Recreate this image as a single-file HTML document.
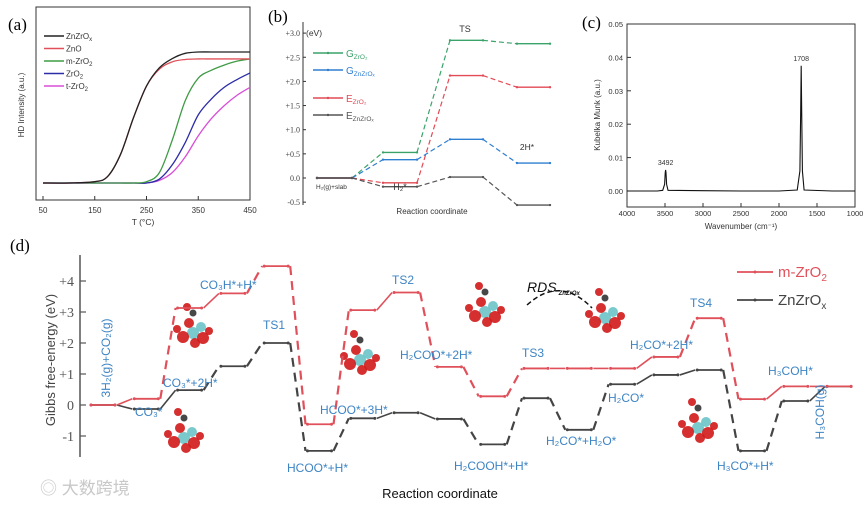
<!DOCTYPE html>
<html><head><meta charset="utf-8"><style>
body{margin:0;background:#fff}
svg{display:block;font-family:"Liberation Sans","Noto Sans CJK SC",sans-serif}
</style></head><body>
<svg id="s" width="865" height="505" viewBox="0 0 865 505" xmlns="http://www.w3.org/2000/svg">
<text x="8" y="30" font-family="Liberation Serif,serif" font-size="17">(a)</text>
<text x="268" y="22" font-family="Liberation Serif,serif" font-size="17">(b)</text>
<text x="582" y="28" font-family="Liberation Serif,serif" font-size="17">(c)</text>
<text x="10" y="251" font-family="Liberation Serif,serif" font-size="17">(d)</text>
<g id="ga"></g>
<g id="gb"></g>
<g id="gc"></g>
<g id="gd"></g>
<text x="40" y="494" font-size="17" fill="#c8c8c8">◎ 大数跨境</text>
</svg>
<script>
// ---------- Panel a data ----------
const aTemps=[50,100,150,175,200,225,250,275,300,325,350,375,400,425,450];
const aNames=["ZnZrOx","ZnO","m-ZrO2","ZrO2","t-ZrO2"];
const aZnZrOx=[0,0,1,5,22,50,74,88,95,99,100,100,100,100,100];
const aZnO=[0,0,1,5,22,50,74,87,92.5,94.3,94.7,94.7,94.7,94.7,94.7];
const aMZrO2=[0,0,0,0,0,0,1,8,33,63,80,86,90,93,94.7];
const aZrO2=[0,0,0,0,0,0,0,3,14,31,52,64,73,79,84];
const aTZrO2=[0,0,0,0,0,0,0,2,8,20,36,49,59,67,73];
const aTicks=[50,150,250,350,450];
// ---------- Panel b data ----------
const bGZrO2=[0,0.53,2.85,2.78];
const bGZnZrOx=[0,0.38,0.80,0.31];
const bEZrO2=[0,-0.10,2.12,1.88];
const bEZnZrOx=[0,-0.18,0.02,-0.56];
const bTicks=[-0.5,0,0.5,1,1.5,2,2.5,3];
const bTickLabels=["-0.5","0.0","+0.5","+1.0","+1.5","+2.0","+2.5","+3.0"];
// ---------- Panel c data ----------
const cWave=[4000,3600,3530,3505,3497,3492,3487,3479,3460,3000,2500,2000,1760,1725,1714,1708,1702,1692,1670,1300,1000];
const cKM=[0,0,0.0002,0.002,0.0055,0.0063,0.0055,0.002,0.0002,0.0001,0,0,0.0003,0.006,0.025,0.0375,0.025,0.006,0.0003,0,0];
const cXTicks=[4000,3500,3000,2500,2000,1500,1000];
const cYTicks=[0,0.01,0.02,0.03,0.04,0.05];
const cYLabels=["0.00","0.01","0.02","0.03","0.04","0.05"];
// ---------- Panel d data ----------
const dRed=[0,0.2,3.13,3.6,4.48,-0.62,3.06,3.63,1.23,0.28,1.18,1.18,1.18,1.55,2.8,0.19,0.6,0.6];
const dBlack=[0,-0.13,0.48,1.25,2.0,-1.48,-0.43,-0.25,-0.45,-1.27,0.22,-0.8,0.67,0.97,1.13,-1.48,0.13,0.6];
const dTicks=[-1,0,1,2,3,4];
const dTickLabels=["-1","0","+1","+2","+3","+4"];

const NS="http://www.w3.org/2000/svg";
function mk(p,t,a){const e=document.createElementNS(NS,t);for(const k in a)e.setAttribute(k,a[k]);p.appendChild(e);return e;}
function txt(p,x,y,s,o){const e=mk(p,"text",Object.assign({x:x,y:y},o||{}));e.textContent=s;return e;}
function smooth(pts){let d="M"+pts[0][0]+","+pts[0][1];for(let i=0;i<pts.length-1;i++){const p0=pts[Math.max(0,i-1)],p1=pts[i],p2=pts[i+1],p3=pts[Math.min(pts.length-1,i+2)];d+=" C"+(p1[0]+(p2[0]-p0[0])/6)+","+(p1[1]+(p2[1]-p0[1])/6)+" "+(p2[0]-(p3[0]-p1[0])/6)+","+(p2[1]-(p3[1]-p1[1])/6)+" "+p2[0]+","+p2[1];}return d;}

// ===== Panel a =====
(function(){
const g=document.getElementById("ga");
const xA=t=>43+(t-50)*207/400, yA=v=>183-v*1.31;
const box=mk(g,"rect",{x:36,y:7,width:214,height:193,fill:"none",stroke:"#333","stroke-width":1});


aTicks.forEach(t=>{mk(g,"line",{x1:xA(t),x2:xA(t),y1:200,y2:196,stroke:"#333"});
 const l=txt(g,xA(t),213,t,{"font-size":8,"text-anchor":"middle",fill:"#333"});
 
 });
const xt=txt(g,143,225,"T (°C)",{"font-size":8.5,"text-anchor":"middle",fill:"#333"});


const yt=txt(g,0,0,"HD Intensity (a.u.)",{"font-size":8,"text-anchor":"middle",fill:"#333",transform:"translate(24,105) rotate(-90)"});


const series=[aZnZrOx,aZnO,aMZrO2,aZrO2,aTZrO2];
const cols=["#222","#e0505a","#3f9b45","#2c2ca8","#d84ed8"];
const labels=["ZnZrO","ZnO","m-ZrO","ZrO","t-ZrO"], subs=["x","","2","2","2"];
for(let k=series.length-1;k>=0;k--){
 const p=mk(g,"path",{d:smooth(aTemps.map((t,i)=>[xA(t),yA(series[k][i])])),fill:"none",stroke:cols[k],"stroke-width":1.3});
 
 
}
series.forEach((s,k)=>{const y=36+k*12.5;
 mk(g,"line",{x1:44,x2:64,y1:y,y2:y,stroke:cols[k],"stroke-width":1.5});
 const t=txt(g,66,y+3,labels[k],{"font-size":8,fill:"#333"});
 if(subs[k]){const ts=mk(t,"tspan",{"font-size":6,dy:2});ts.textContent=subs[k];}
 
 });
})();

// ===== Panel b =====
(function(){
const g=document.getElementById("gb");
const yB=e=>178-e*48.3;
const xs=[[317,352],[383,417],[450,483],[517,550]];
const ax=mk(g,"line",{x1:303,x2:303,y1:22,y2:205,stroke:"#333"});


bTicks.forEach((t,i)=>{mk(g,"line",{x1:303,x2:306,y1:yB(t),y2:yB(t),stroke:"#333"});
 const l=txt(g,300,yB(t)+3,bTickLabels[i],{"font-size":8,"text-anchor":"end",fill:"#444","font-family":"Liberation Serif,serif"});
 
 });
txt(g,306,36,"(eV)",{"font-size":8.5,fill:"#333"});
const ser=[bGZrO2,bGZnZrOx,bEZrO2,bEZnZrOx], cols=["#3aa36a","#2f7fd0","#e24a55","#555"];
const names=["G-ZrO2","G-ZnZrOx","E-ZrO2","E-ZnZrOx"];
ser.forEach((s,k)=>{
 s.forEach((v,i)=>{const y=yB(v);
  const l=mk(g,"line",{x1:xs[i][0],x2:xs[i][1],y1:y,y2:y,stroke:cols[k],"stroke-width":1.4});
  
  
  mk(g,"circle",{cx:xs[i][0],cy:y,r:1.2,fill:cols[k]});mk(g,"circle",{cx:xs[i][1],cy:y,r:1.2,fill:cols[k]});
  if(i<s.length-1){mk(g,"line",{x1:xs[i][1],x2:xs[i+1][0],y1:y,y2:yB(s[i+1]),stroke:cols[k],"stroke-width":1.2,"stroke-dasharray":"5,3"});}
 });});
const lab=[["G","ZrO₂"],["G","ZnZrOₓ"],["E","ZrO₂"],["E","ZnZrOₓ"]], ly=[53,70,98,115];
lab.forEach((l,k)=>{mk(g,"line",{x1:313,x2:343,y1:ly[k],y2:ly[k],stroke:cols[k],"stroke-width":1.4});
 mk(g,"circle",{cx:328,cy:ly[k],r:1.2,fill:cols[k]});
 const t=txt(g,346,ly[k]+4,l[0],{"font-size":10,fill:cols[k]});
 const ts=mk(t,"tspan",{"font-size":6.5,dy:2});ts.textContent=l[1];
 
 });
txt(g,465,32,"TS",{"font-size":9,"text-anchor":"middle",fill:"#333"});
txt(g,527,150,"2H*",{"font-size":8.5,"text-anchor":"middle",fill:"#333"});
txt(g,400,190,"H₂*",{"font-size":9,"text-anchor":"middle",fill:"#333"});
txt(g,316,189,"H₂(g)+slab",{"font-size":6.5,fill:"#333"});
const xt=txt(g,432,214,"Reaction coordinate",{"font-size":8,"text-anchor":"middle",fill:"#333"});


})();

// ===== Panel c =====
(function(){
const g=document.getElementById("gc");
const xC=w=>627+(4000-w)*228/3000, yC=v=>191-v*3340;
const box=mk(g,"rect",{x:627,y:24,width:228,height:183,fill:"none",stroke:"#333"});


cXTicks.forEach(t=>{mk(g,"line",{x1:xC(t),x2:xC(t),y1:207,y2:203,stroke:"#333"});
 const l=txt(g,xC(t),216,t,{"font-size":7.5,"text-anchor":"middle",fill:"#333"});
 
 });
cYTicks.forEach((t,i)=>{mk(g,"line",{x1:627,x2:631,y1:yC(t),y2:yC(t),stroke:"#333"});
 const l=txt(g,623,yC(t)+3,cYLabels[i],{"font-size":7.5,"text-anchor":"end",fill:"#333"});
 
 });
const p=mk(g,"path",{d:"M"+cWave.map((w,i)=>xC(w)+","+yC(cKM[i])).join(" L"),fill:"none",stroke:"#111","stroke-width":1.1});


txt(g,xC(3492),yC(0.0063)-5,"3492",{"font-size":7,"text-anchor":"middle",fill:"#333"});
txt(g,xC(1708),yC(0.0375)-5,"1708",{"font-size":7,"text-anchor":"middle",fill:"#333"});
const xt=txt(g,741,229,"Wavenumber (cm⁻¹)",{"font-size":8,"text-anchor":"middle",fill:"#333"});


const yt=txt(g,0,0,"Kubelka Munk (a.u.)",{"font-size":8,"text-anchor":"middle",fill:"#333",transform:"translate(600,115) rotate(-90)"});


})();

// ===== Panel d =====
(function(){
const g=document.getElementById("gd");
const yD=e=>405-e*31, xS=i=>91+i*43.3, W=24;
function mol(cx,cy){const c=[[0,0,"#6cc4c8",6],[-10,4,"#d01818",6],[10,5,"#d01818",6],[-4,-10,"#d01818",5],[8,-6,"#6cc4c8",5],[-16,-4,"#d01818",4],[16,-2,"#d01818",4],[2,10,"#d01818",5],[0,-20,"#333",3.5],[-6,-26,"#d01818",4]];
 c.forEach(q=>mk(g,"circle",{cx:cx+q[0],cy:cy+q[1],r:q[3],fill:q[2],opacity:0.9}));}
[[193,333],[184,438],[360,360],[485,312],[605,318],[698,428]].forEach(m=>mol(m[0],m[1]));
mk(g,"path",{d:"M527,305 Q560,275 592,308",fill:"none",stroke:"#111","stroke-width":1.5,"stroke-dasharray":"5,3"});
const ax=mk(g,"line",{x1:80,x2:80,y1:255,y2:457,stroke:"#555","stroke-width":1.5});


dTicks.forEach((t,i)=>{mk(g,"line",{x1:80,x2:86,y1:yD(t),y2:yD(t),stroke:"#555","stroke-width":1.2});
 const l=txt(g,74,yD(t)+5,dTickLabels[i],{"font-size":14,"text-anchor":"end",fill:"#555","font-family":"Liberation Serif,serif"});
 
 });
const yt=txt(g,0,0,"Gibbs free-energy (eV)",{"font-size":13,"text-anchor":"middle",fill:"#444",transform:"translate(55,360) rotate(-90)"});


[[dBlack,"#444","zn-zr-ox"],[dRed,"#e0505a","m-zro2"]].forEach(sr=>{const s=sr[0],c=sr[1];
 s.forEach((v,i)=>{const y=yD(v),x0=xS(i),x1=x0+W;
  const l=mk(g,"line",{x1:x0,x2:x1,y1:y,y2:y,stroke:c,"stroke-width":1.8});
  
  
  mk(g,"circle",{cx:x0,cy:y,r:1.5,fill:c});mk(g,"circle",{cx:x1,cy:y,r:1.5,fill:c});
  if(i<s.length-1){const y2=yD(s[i+1]);const big=Math.abs(y2-y)>20;
   mk(g,"line",{x1:x1+2,x2:xS(i+1)-2,y1:y,y2:y2,stroke:c,"stroke-width":big?2.2:1.6,"stroke-dasharray":big?"9,6":"none"});}
 });});
mk(g,"line",{x1:737,x2:773,y1:272,y2:272,stroke:"#e0505a","stroke-width":1.8});mk(g,"circle",{cx:755,cy:272,r:1.5,fill:"#e0505a"});
const l1=txt(g,778,277,"m-ZrO",{"font-size":15,fill:"#e0505a"});const s1=mk(l1,"tspan",{"font-size":10,dy:4});s1.textContent="2";


mk(g,"line",{x1:737,x2:773,y1:300,y2:300,stroke:"#444","stroke-width":1.8});mk(g,"circle",{cx:755,cy:300,r:1.5,fill:"#444"});
const l2=txt(g,778,305,"ZnZrO",{"font-size":15,fill:"#444"});const s2=mk(l2,"tspan",{"font-size":10,dy:4});s2.textContent="x";


const B="#3d84c4";
[["CO₃*",135,416],["CO₃*+2H*",163,387],["CO₃H*+H*",200,289],["TS1",263,329],["HCOO*+H*",287,472],["HCOO*+3H*",320,414],["TS2",392,284],["H₂COO*+2H*",400,359],["TS3",522,357],["H₂COOH*+H*",454,470],["H₂CO*+H₂O*",546,445],["H₂CO*",608,402],["H₂CO*+2H*",630,349],["TS4",690,307],["H₃COH*",768,375],["H₃CO*+H*",717,470]].forEach(a=>{
 const t=txt(g,a[1],a[2],a[0],{"font-size":12,fill:B});
 
 });
txt(g,0,0,"3H₂(g)+CO₂(g)",{"font-size":12,fill:B,"text-anchor":"middle",transform:"translate(110,358) rotate(-90)"});
txt(g,0,0,"H₃COH(g)",{"font-size":12,fill:B,"text-anchor":"middle",transform:"translate(824,412) rotate(-90)"});
const r=txt(g,527,292,"RDS",{"font-size":14,"font-style":"italic",fill:"#111"});const rs=mk(r,"tspan",{"font-size":6,dy:3,dx:2,"font-weight":"bold"});rs.textContent="ZnZrOx";
const xt=txt(g,440,498,"Reaction coordinate",{"font-size":13,"text-anchor":"middle",fill:"#111"});


})();
</script>
</body></html>
